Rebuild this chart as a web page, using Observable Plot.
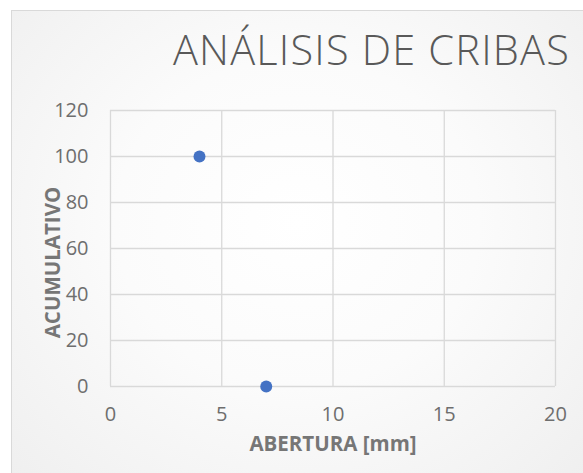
<!DOCTYPE html>
<html>
<head>
<meta charset="utf-8">
<script src="https://cdn.jsdelivr.net/npm/d3@7"></script>
<script src="https://cdn.jsdelivr.net/npm/@observablehq/plot@0.6"></script>
<style>
  html, body { margin: 0; padding: 0; background: #ffffff; }
  #wrap { position: relative; width: 583px; height: 473px; overflow: hidden; font-family: "Open Sans", sans-serif; }
  #frame { position: absolute; left: 11px; top: 10px; width: 571px; height: 470px; border: 1px solid #d9d9d9;
           background: radial-gradient(ellipse at 50% 45%, #ffffff 0%, #fbfbfb 45%, #efefef 100%); }
  #title { position: absolute; right: 13px; top: 21px; font-size: 41.5px; line-height: 56px; font-weight: 300; color: #595959; white-space: nowrap; letter-spacing: 1.2px; }
  #chart { position: absolute; left: 0; top: 90px; }
</style>
</head>
<body>
<div id="wrap">
  <div id="frame"></div>
  <div id="title">ANÁLISIS DE CRIBAS</div>
  <div id="chart"></div>
</div>
<script>
const titleText = "ANÁLISIS DE CRIBAS";
const xLabel = "ABERTURA [mm]";
const yLabel = "ACUMULATIVO";
const abertura = [4, 7];
const acumulativo = [100, 0];
const xTicks = [0, 5, 10, 15, 20];
const yTicks = [0, 20, 40, 60, 80, 100, 120];

const data = abertura.map((x, i) => ({x, y: acumulativo[i]}));

const chart = Plot.plot({
  width: 583,
  height: 383,
  marginLeft: 110,
  marginRight: 28,
  marginTop: 20,
  marginBottom: 87,
  style: {background: "transparent", fontFamily: "Open Sans, sans-serif", fontSize: "20px", color: "#6e6e6e"},
  x: {domain: [0, 20], ticks: xTicks},
  y: {domain: [0, 120], ticks: yTicks},
  marks: [
    Plot.gridX(xTicks, {stroke: "#d9d9d9", strokeOpacity: 1, strokeWidth: 1.3}),
    Plot.gridY(yTicks, {stroke: "#d9d9d9", strokeOpacity: 1, strokeWidth: 1.3}),
    Plot.axisX(xTicks, {tickSize: 0, tickPadding: 20, label: null, fill: "#6e6e6e", fontSize: 20}),
    Plot.axisY(yTicks, {tickSize: 0, tickPadding: 22, label: null, fill: "#6e6e6e", fontSize: 20}),
    Plot.dot(data, {x: "x", y: "y", r: 6, fill: "#4472C4", stroke: "none"}),
    Plot.text([xLabel], {frameAnchor: "bottom", dy: 58, lineAnchor: "middle", fontWeight: "bold", fontSize: 20.5, fill: "#767676"}),
    Plot.text([yLabel], {frameAnchor: "left", dx: -57, dy: 14, rotate: -90, lineAnchor: "middle", textAnchor: "middle", fontWeight: "bold", fontSize: 20.5, fill: "#767676"})
  ]
});
document.getElementById("chart").appendChild(chart);
</script>
</body>
</html>
